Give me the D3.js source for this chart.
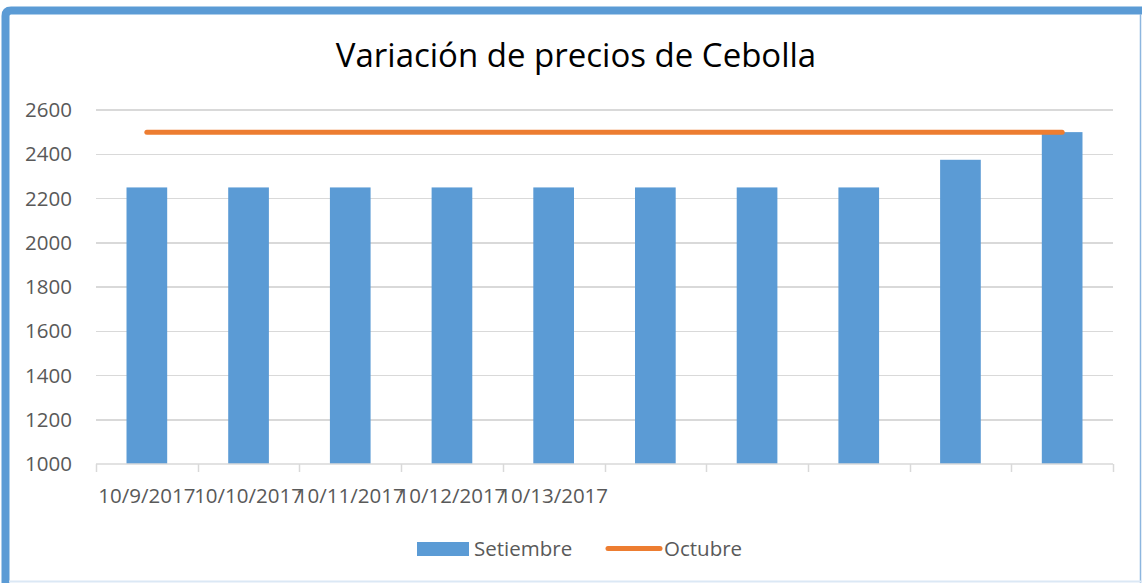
<!doctype html>
<html lang="es">
<head>
  <meta charset="utf-8">
  <title>Variación de precios de Cebolla</title>
  <style>
body { margin: 0; background: #fff; }
svg { display: block; font-family: "Open Sans", "Noto Sans", sans-serif; }
.grid line { stroke: #d9d9d9; stroke-width: 1.5; shape-rendering: crispEdges; }
.axis text { fill: #595959; font-size: 20.5px; }
  </style>
</head>
<body>
  <script src="https://d3js.org/d3.v7.min.js"></script>
  <script>
// categories (only the first five carry a label in the original)
var dates = ["10/9/2017", "10/10/2017", "10/11/2017", "10/12/2017", "10/13/2017",
             "d6", "d7", "d8", "d9", "d10"];
var shownLabels = ["10/9/2017", "10/10/2017", "10/11/2017", "10/12/2017", "10/13/2017"];
var setiembre = [2250, 2250, 2250, 2250, 2250, 2250, 2250, 2250, 2375, 2500];
var octubre = [2500, 2500, 2500, 2500, 2500, 2500, 2500, 2500, 2500, 2500];
var yTicks = [1000, 1200, 1400, 1600, 1800, 2000, 2200, 2400, 2600];

var W = 1142, H = 583;
var margin = {top: 110, right: 29, bottom: 119, left: 96},
    width = W - margin.left - margin.right,
    height = H - margin.top - margin.bottom;

var svg = d3.select("body").append("svg")
    .attr("width", W)
    .attr("height", H);

// frame of the chart object
svg.append("path")
    .attr("d", "M5.5,583 L5.5,16 Q5.5,10.5 11,10.5 L1142,10.5")
    .attr("fill", "none")
    .attr("stroke", "#5b9bd5")
    .attr("stroke-width", 8);
svg.append("line")
    .attr("x1", 1140.5).attr("x2", 1140.5).attr("y1", 14).attr("y2", 583)
    .attr("stroke", "#8db6df").attr("stroke-width", 1.5);
svg.append("line")
    .attr("x1", 9).attr("x2", 1142).attr("y1", 581.5).attr("y2", 581.5)
    .attr("stroke", "#dbe8f5").attr("stroke-width", 2);

svg.append("text")
    .attr("x", 576)
    .attr("y", 67)
    .attr("text-anchor", "middle")
    .attr("fill", "#000")
    .style("font-size", "33px")
    .text("Variación de precios de Cebolla");

var g = svg.append("g")
    .attr("transform", "translate(" + margin.left + "," + margin.top + ")");

var x = d3.scaleBand()
    .domain(dates)
    .range([0, width])
    .paddingInner(0.6)
    .paddingOuter(0.3);

var y = d3.scaleLinear()
    .domain([1000, 2600])
    .range([height, 0]);

// gridlines
g.append("g")
    .attr("class", "grid")
    .selectAll("line")
    .data(yTicks.slice(1))
    .enter().append("line")
    .attr("x1", 0)
    .attr("x2", width)
    .attr("y1", function(d) { return y(d); })
    .attr("y2", function(d) { return y(d); });

// y axis labels
g.append("g")
    .attr("class", "axis")
    .selectAll("text")
    .data(yTicks)
    .enter().append("text")
    .attr("x", -24)
    .attr("y", function(d) { return y(d); })
    .attr("dy", "0.35em")
    .attr("text-anchor", "end")
    .text(function(d) { return d; });

// bars
g.selectAll(".bar")
    .data(setiembre)
    .enter().append("rect")
    .attr("class", "bar")
    .attr("x", function(d, i) { return x(dates[i]); })
    .attr("width", x.bandwidth())
    .attr("y", function(d) { return y(d); })
    .attr("height", function(d) { return height - y(d); })
    .attr("fill", "#5b9bd5");

// x axis line and ticks at band boundaries
var bounds = d3.range(dates.length + 1).map(function(i) { return i * width / dates.length; });
g.append("line")
    .attr("x1", 0).attr("x2", width)
    .attr("y1", height).attr("y2", height)
    .attr("stroke", "#d9d9d9").attr("stroke-width", 1.5);
g.append("g")
    .selectAll("line")
    .data(bounds)
    .enter().append("line")
    .attr("x1", function(d) { return Math.round(d) + 0.5; })
    .attr("x2", function(d) { return Math.round(d) + 0.5; })
    .attr("y1", height)
    .attr("y2", height + 8)
    .attr("stroke", "#d9d9d9").attr("stroke-width", 1.5);

// x labels
g.append("g")
    .attr("class", "axis")
    .selectAll("text")
    .data(shownLabels)
    .enter().append("text")
    .attr("x", function(d, i) { return x(dates[i]) + x.bandwidth() / 2; })
    .attr("y", height + 39)
    .attr("text-anchor", "middle")
    .text(function(d) { return d; });

// octubre line
var line = d3.line()
    .x(function(d, i) { return x(dates[i]) + x.bandwidth() / 2; })
    .y(function(d) { return y(d); });
g.append("path")
    .datum(octubre)
    .attr("d", line)
    .attr("fill", "none")
    .attr("stroke", "#ed7d31")
    .attr("stroke-width", 5)
    .attr("stroke-linecap", "round");

// legend
var legend = svg.append("g").attr("class", "axis");
legend.append("rect")
    .attr("x", 417).attr("y", 542)
    .attr("width", 52).attr("height", 14)
    .attr("fill", "#5b9bd5");
legend.append("text")
    .attr("x", 474).attr("y", 549).attr("dy", "0.35em")
    .text("Setiembre");
legend.append("line")
    .attr("x1", 608).attr("x2", 660)
    .attr("y1", 548.5).attr("y2", 548.5)
    .attr("stroke", "#ed7d31").attr("stroke-width", 5)
    .attr("stroke-linecap", "round");
legend.append("text")
    .attr("x", 664).attr("y", 549).attr("dy", "0.35em")
    .text("Octubre");
  </script>
</body>
</html>
